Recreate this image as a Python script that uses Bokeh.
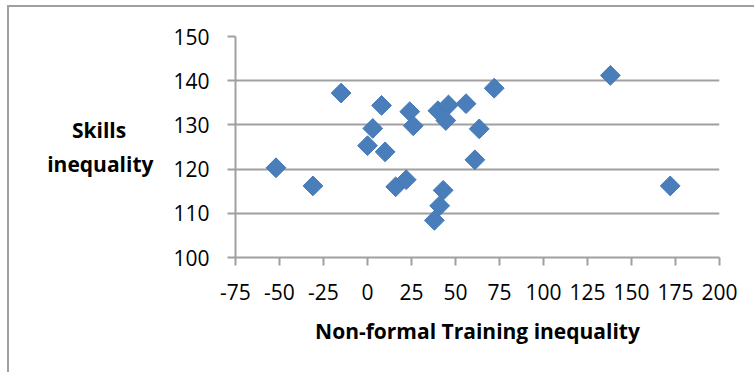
import numpy as np
from bokeh.plotting import figure
from bokeh.models import Range1d, FixedTicker
from bokeh.embed import file_html
from bokeh.resources import INLINE

# Data
train_ineq = [-52, -31, -15, 8, 3, 0, 10, 24, 26, 16, 22, 40, 46, 44.5, 56, 72, 63.5, 61, 43, 41, 38, 138, 172]
skills_ineq = [120.3, 116.2, 137.2, 134.4, 129.2, 125.3, 123.9, 133.0, 129.8, 116.0, 117.6, 133.2, 134.5, 131.0, 134.8, 138.3, 129.1, 122.1, 115.2, 111.7, 108.4, 141.2, 116.2]
x_ticks = [-75, -50, -25, 0, 25, 50, 75, 100, 125, 150, 175, 200]
y_ticks = [100, 110, 120, 130, 140, 150]
x_title = "Non-formal Training inequality"
y_title_lines = ["Skills", "inequality"]

FONT = "Open Sans"
GRID = "#a0a0a0"

p = figure(width=747, height=367, output_backend="svg", toolbar_location=None,
           x_range=Range1d(-75, 200), y_range=Range1d(100, 150),
           min_border_left=226, min_border_right=37, min_border_top=29, min_border_bottom=117)
p.styles = {"border-top": "2px solid #a0a0a0", "border-left": "2px solid #a0a0a0",
            "margin-left": "7px", "margin-top": "5px"}
p.outline_line_color = None
p.background_fill_color = "white"
p.border_fill_color = "white"

p.scatter(train_ineq, skills_ineq, marker="square", size=14, angle=np.pi / 4,
          fill_color="#4A7EBB", line_color="#4679B6", line_width=1)

for ax in (p.xaxis[0], p.yaxis[0]):
    ax.axis_line_color = GRID
    ax.axis_line_width = 2
    ax.major_tick_line_color = GRID
    ax.major_tick_line_width = 2
    ax.major_tick_in = 0
    ax.major_tick_out = 8
    ax.minor_tick_line_color = None
    ax.major_label_text_font = FONT
    ax.major_label_text_font_size = "21px"
    ax.major_label_text_color = "black"
    ax.axis_label_text_font = FONT
    ax.axis_label_text_font_style = "bold"
    ax.axis_label_text_font_size = "21px"
    ax.axis_label_text_color = "black"

p.xaxis.ticker = FixedTicker(ticks=x_ticks)
p.yaxis.ticker = FixedTicker(ticks=y_ticks)
p.xaxis.major_label_overrides = {t: str(t) for t in x_ticks}
p.yaxis.major_label_overrides = {t: str(t) for t in y_ticks}
p.yaxis.major_label_standoff = 18
p.xaxis.major_label_standoff = 18

p.xaxis.axis_label = x_title
p.xaxis.axis_label_standoff = 14

# two-line horizontal y title; lines are right-aligned by Bokeh, so pad the short line
p.yaxis.axis_label = y_title_lines[0] + "\u00a0" * 5 + "\n" + y_title_lines[1]
p.yaxis.axis_label_orientation = "horizontal"
p.yaxis.axis_label_standoff = 17
p.yaxis.axis_label_text_line_height = 1.2

p.xgrid.grid_line_color = None
p.ygrid.grid_line_color = GRID
p.ygrid.grid_line_width = 2
p.ygrid.ticker = FixedTicker(ticks=y_ticks)

open("out.html", "w").write(file_html(p, INLINE))
